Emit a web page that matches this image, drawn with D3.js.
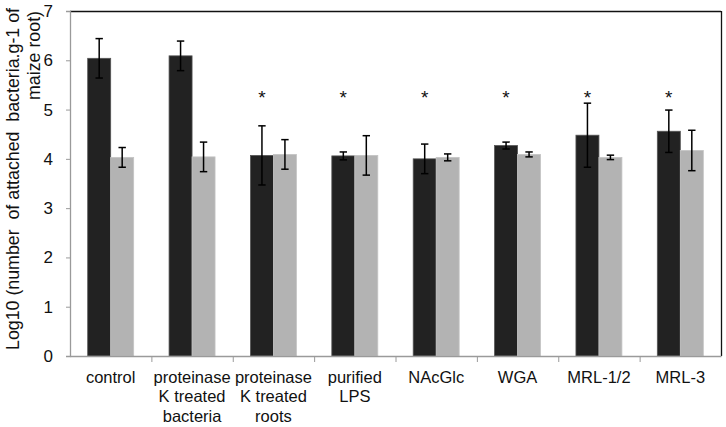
<!DOCTYPE html>
<html><head><meta charset="utf-8">
<script src="https://cdn.jsdelivr.net/npm/d3@7"></script>
<style>
body{margin:0;background:#fff;}
text{font-family:"Liberation Sans",Arial,sans-serif;}
</style></head>
<body><svg id="c" width="726" height="427"></svg>
<script>
const categories = ["control","proteinase\nK treated\nbacteria","proteinase\nK treated\nroots","purified\nLPS","NAcGlc","WGA","MRL-1/2","MRL-3"];
const seriesNames = ["dark","light"];
const darkValues = [6.04, 6.09, 4.07, 4.06, 4.00, 4.27, 4.48, 4.56];
const darkErrors = [0.40, 0.30, 0.60, 0.08, 0.30, 0.07, 0.65, 0.43];
const lightValues = [4.03, 4.04, 4.09, 4.07, 4.03, 4.09, 4.03, 4.17];
const lightErrors = [0.20, 0.30, 0.30, 0.40, 0.07, 0.05, 0.045, 0.41];
const significant = [false, false, true, true, true, true, true, true];
const yTicks = [0,1,2,3,4,5,6,7];
const asteriskLevel = 5.3;

const svg = d3.select("#c");
const L = 70, R = 721, T = 11, B = 356;
const x = d3.scaleBand().domain(categories).range([L, R]).padding(0);
const xs = d3.scaleBand().domain(seriesNames).range([0, x.bandwidth()]).paddingInner(0).paddingOuter(0.77);
const y = d3.scaleLinear().domain([0, 7]).range([B, T]);
const colors = {dark:"#222222", light:"#b3b3b3"};
const strokes = {dark:"#555555", light:"#c4c4c4"};

const data = categories.map((c,i)=>({c, dark:{v:darkValues[i], e:darkErrors[i]}, light:{v:lightValues[i], e:lightErrors[i]}, sig:significant[i]}));

// frame top/right
svg.append("line").attr("x1",L).attr("x2",R).attr("y1",T+0.5).attr("y2",T+0.5).attr("stroke","#111").attr("stroke-width",1.3);
svg.append("line").attr("x1",R+0.5).attr("x2",R+0.5).attr("y1",T).attr("y2",B).attr("stroke","#111").attr("stroke-width",1.3);

// bars
const g = svg.append("g");
data.forEach(d=>{
  seriesNames.forEach(s=>{
    const bx = x(d.c)+xs(s);
    g.append("rect").attr("x",bx).attr("y",y(d[s].v)).attr("width",xs.bandwidth()).attr("height",B-y(d[s].v))
      .attr("fill",colors[s]).attr("stroke",strokes[s]).attr("stroke-width",0.8);
  });
});
// error bars
data.forEach(d=>{
  seriesNames.forEach(s=>{
    const cx = x(d.c)+xs(s)+xs.bandwidth()/2;
    const y1 = y(d[s].v + d[s].e), y2 = y(d[s].v - d[s].e);
    g.append("line").attr("x1",cx).attr("x2",cx).attr("y1",y1).attr("y2",y2).attr("stroke","#000").attr("stroke-width",1.5);
    [y1,y2].forEach(yy=>g.append("line").attr("x1",cx-3.7).attr("x2",cx+3.7).attr("y1",yy).attr("y2",yy).attr("stroke","#000").attr("stroke-width",1.5));
  });
  if(d.sig){
    svg.append("text").attr("x",x(d.c)+xs("dark")+xs.bandwidth()/2).attr("y",y(asteriskLevel)+9)
      .attr("text-anchor","middle").attr("font-size",19).attr("fill","#111").text("*");
  }
});

// y axis
const yAx = svg.append("g").attr("transform",`translate(${L},0)`)
  .call(d3.axisLeft(y).tickValues(yTicks).tickSize(4).tickPadding(13).tickFormat(d3.format("d")));
yAx.select(".domain").attr("stroke","#9a9a9a").attr("stroke-width",1.3);
yAx.selectAll(".tick line").attr("stroke","#9a9a9a");
yAx.selectAll(".tick text").attr("font-size",17).attr("fill","#111").attr("font-family","Liberation Sans, Arial, sans-serif");

// x axis
const xAx = svg.append("g").attr("transform",`translate(0,${B})`)
  .call(d3.axisBottom(x).tickSize(0).tickFormat(""));
xAx.select(".domain").attr("stroke","#9a9a9a").attr("stroke-width",1.3);
categories.forEach((c,i)=>{
  if(i>0) svg.append("line").attr("x1",x(c)+0.5).attr("x2",x(c)+0.5).attr("y1",B).attr("y2",B+6).attr("stroke","#9a9a9a");
  const t = svg.append("text").attr("text-anchor","middle").attr("font-size",16.5).attr("fill","#111");
  c.split("\n").forEach((ln,j)=>{
    t.append("tspan").attr("x",x(c)+x.bandwidth()/2).attr("y",383+j*19.4).text(ln);
  });
});

// y label
const yl = svg.append("text").attr("transform","rotate(-90)").attr("font-size",17.8).attr("fill","#111").style("white-space","pre");
yl.append("tspan").attr("x",-179).attr("y",19).attr("text-anchor","middle").text("Log10 (number  of attached  bacteria.g-1 of");
svg.append("text").attr("transform","rotate(-90)").attr("font-size",17.8).attr("fill","#111")
  .attr("x",-11).attr("y",40).attr("text-anchor","end").text("maize root)");
</script></body></html>
